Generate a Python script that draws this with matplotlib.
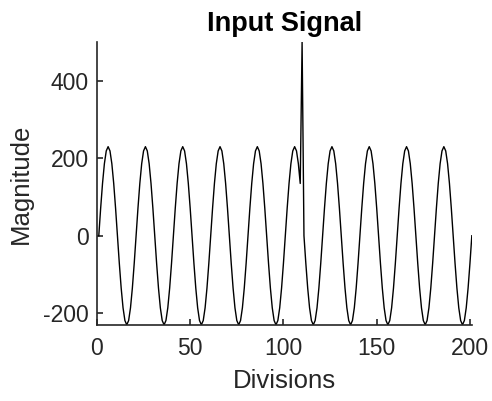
import numpy as np
import matplotlib
matplotlib.use("Agg")
import matplotlib.pyplot as plt

# one cycle of the sampled sine (20 divisions per period)
cycle = [0, 71, 135, 186, 219, 230, 219, 186, 135, 71,
         0, -71, -135, -186, -219, -230, -219, -186, -135, -71]
n_cycles = 10
spike_div = 110
spike_value = 500

signal = np.append(np.tile(cycle, n_cycles), 0).astype(float)
signal[spike_div - 1] = spike_value
divisions = np.arange(1, len(signal) + 1)

plt.rcParams['font.family'] = ['Liberation Sans', 'DejaVu Sans']
plt.rcParams['axes.unicode_minus'] = False
grey = '#262626'

fig = plt.figure(figsize=(4.92, 4.01), dpi=100)
ax = fig.add_axes([0.197, 0.19, 0.762, 0.705])
ax.plot(divisions, signal, color='black', lw=1.0)

ax.set_xlim(0, len(signal))
ax.set_ylim(min(cycle), spike_value)
ax.set_xticks([0, 50, 100, 150, 200])
ax.set_yticks([-200, 0, 200, 400])

for side in ['top', 'right']:
    ax.spines[side].set_visible(False)
for side in ['left', 'bottom']:
    ax.spines[side].set_color(grey)
    ax.spines[side].set_linewidth(1.2)
ax.tick_params(direction='in', length=4, width=1.2, colors=grey, labelsize=16.5)
ax.tick_params(axis='x', pad=9)
ax.tick_params(axis='y', pad=6)

ax.set_title('Input Signal', fontsize=19.5, fontweight='bold', color='black', pad=8)
ax.set_xlabel('Divisions', fontsize=18.5, color=grey)
ax.set_ylabel('Magnitude', fontsize=18.5, color=grey)
ax.xaxis.set_label_coords(0.5, -0.155)
ax.yaxis.set_label_coords(-0.171, 0.5)

fig.savefig('out.png', dpi=100)
